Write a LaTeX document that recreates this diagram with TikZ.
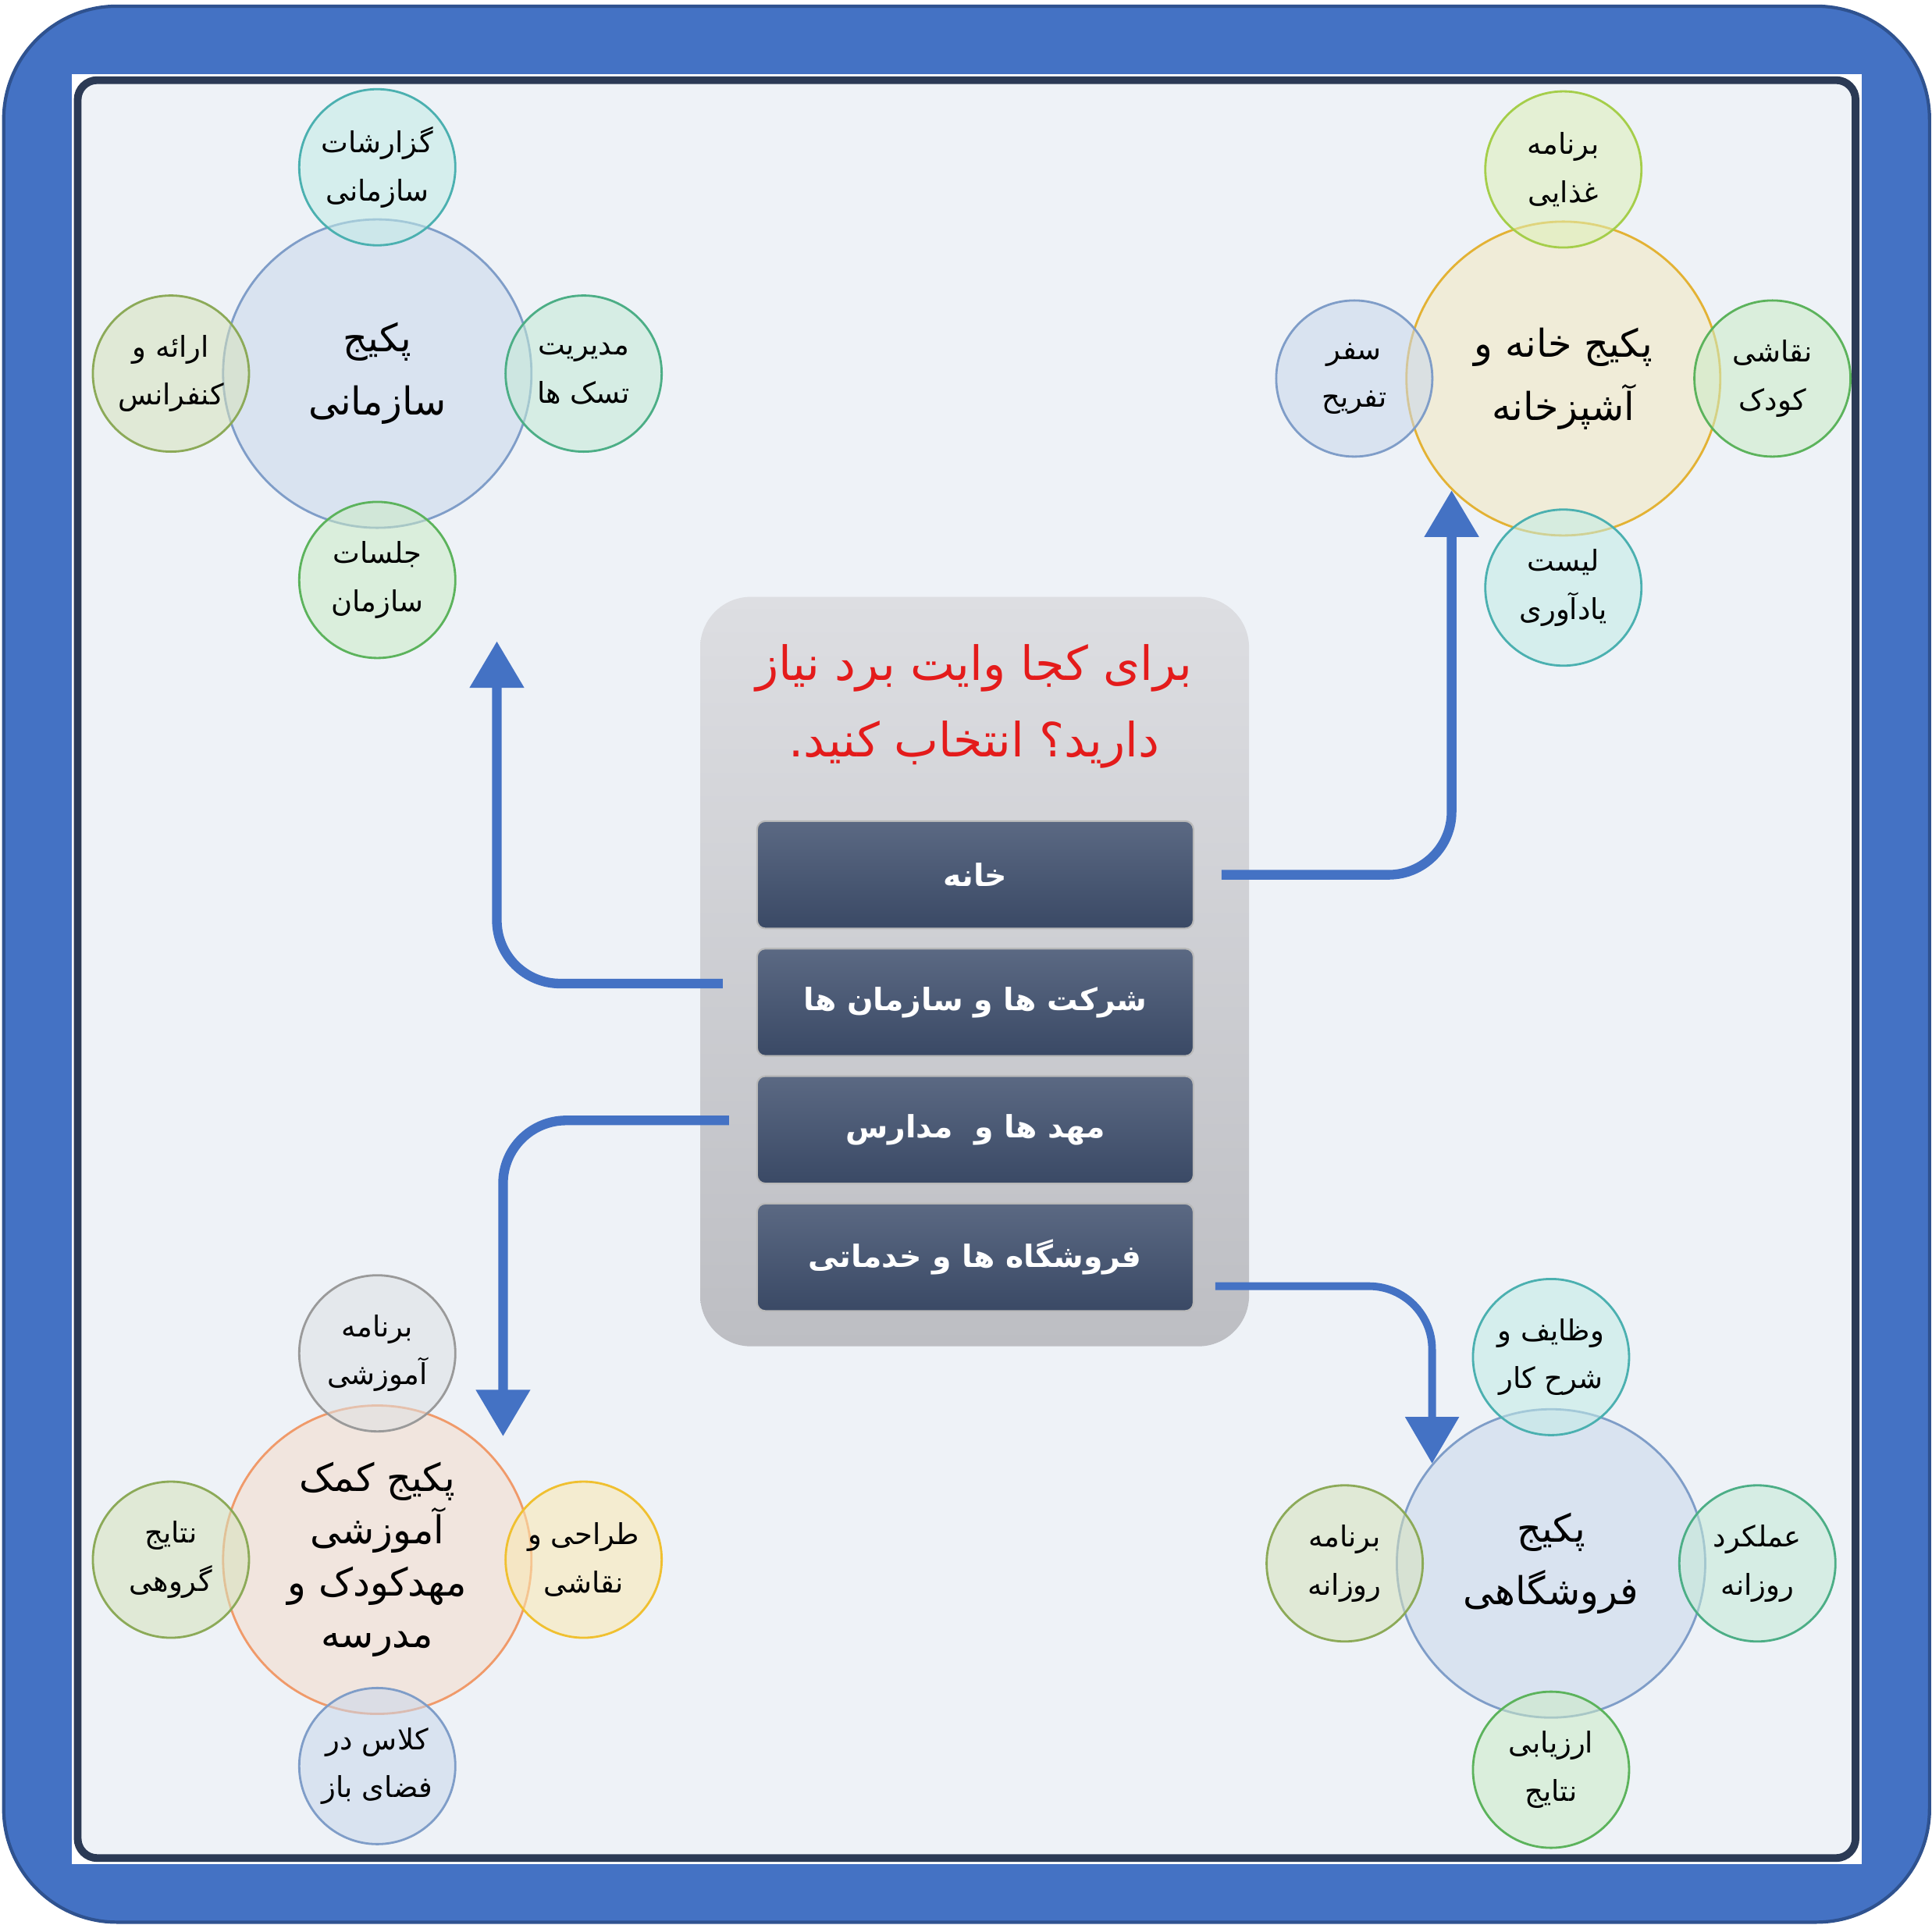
\documentclass[tikz,border=0pt]{standalone}
\usepackage{fontspec}
\newfontfamily\arabicfont[Script=Arabic]{DejaVu Sans}
\TeXXeTstate=1
\usetikzlibrary{positioning, arrows.meta}

\newcommand{\fatext}[1]{\beginR #1\endR}

\definecolor{frameblue}{HTML}{4472C4}
\definecolor{frameline}{HTML}{2F528F}
\definecolor{panelbg}{HTML}{EEF2F7}
\definecolor{panelline}{HTML}{2B3A55}
\definecolor{menutop}{HTML}{DDDEE2}
\definecolor{menubot}{HTML}{BDBEC3}
\definecolor{btntop}{HTML}{5B6983}
\definecolor{btnbot}{HTML}{3A4965}
\definecolor{titlered}{HTML}{E41B1B}
\definecolor{bluefill}{HTML}{C9D7EC}   \definecolor{blueline}{HTML}{7F9DC8}
\definecolor{tealfill}{HTML}{C2ECE6}   \definecolor{tealline}{HTML}{4BB0B0}
\definecolor{olivefill}{HTML}{D6E2BC}  \definecolor{oliveline}{HTML}{8CAA58}
\definecolor{mintfill}{HTML}{C4EAD6}   \definecolor{mintline}{HTML}{4CAE86}
\definecolor{greenfill}{HTML}{CBEBC6}  \definecolor{greenline}{HTML}{5CB35C}
\definecolor{yellowfill}{HTML}{F3E8C0} \definecolor{yellowline}{HTML}{E3B234}
\definecolor{limefill}{HTML}{DDF0B8}   \definecolor{limeline}{HTML}{A5CE4A}
\definecolor{orangefill}{HTML}{F4DCCB} \definecolor{orangeline}{HTML}{F09A6A}
\definecolor{grayfill}{HTML}{DDE0E3}   \definecolor{grayline}{HTML}{9A9A9A}
\definecolor{goldfill}{HTML}{FAE8B0}   \definecolor{goldline}{HTML}{F0C030}

\begin{document}
\begin{tikzpicture}[x=0.0158cm, y=-0.0158cm]
		\tikzset{
			>={Triangle[length=17pt, width=19pt]},
			flow/.style={->, draw=frameblue, line width=3.5pt, rounded corners=23pt},
			menubox/.style={rounded corners=0.65cm, top color=menutop, bottom color=menubot, minimum width=7.03cm, minimum height=9.6cm},
			menubtn/.style={draw=gray!55, line width=0.6pt, rounded corners=3pt, top color=btntop, bottom color=btnbot, minimum width=5.59cm, minimum height=1.375cm, inner sep=0pt, text=white, font=\arabicfont\bfseries\fontsize{11.2}{16}\selectfont},
			pkg/.style={circle, minimum size=3.95cm, inner sep=-25pt, line width=0.8pt, fill opacity=0.55, text opacity=1, align=center, font=\arabicfont\fontsize{14}{23}\selectfont},
			item/.style={circle, minimum size=2cm, inner sep=-25pt, line width=0.8pt, fill opacity=0.55, text opacity=1, align=center, font=\arabicfont\fontsize{10.5}{17.5}\selectfont},
			tone/.style={draw=#1line, fill=#1fill}
		}
		\useasboundingbox (0,0) rectangle (1567,1560.7);
		
		% Frame
		\draw[fill=frameblue, draw=frameline, line width=1.2pt, rounded corners=1.45cm] (3,5) rectangle (1565,1559);
		\fill[white] (58,60) rectangle (1510,1512);
		\draw[panelline, fill=panelbg, line width=2.8pt, rounded corners=0.25cm] (63,65) rectangle (1505,1507);
		
		% Menu
		\node[menubox] (menu) at (790.5,788) {};
		\node[font=\arabicfont\fontsize{17.2}{28}\selectfont, text=titlered, align=center] (title) at (790,573) {\fatext{برای کجا وایت برد نیاز}\\\fatext{دارید؟ انتخاب کنید.}};
		\node[menubtn] (home) at (791,709.5) {\fatext{خانه}};
		\node[menubtn, below=0.237cm of home] (org) {\fatext{شرکت ها و سازمان ها}};
		\node[menubtn, below=0.237cm of org] (school) {\fatext{مهد ها و~ مدارس}};
		\node[menubtn, below=0.237cm of school] (shop) {\fatext{فروشگاه ها و خدماتی}};
		
		% Organisation package
		\node[pkg, tone=blue] (orgpkg) at (306,303) {\fatext{پکیج}\\\fatext{سازمانی}};
		\node[item, tone=teal, above=-0.36cm of orgpkg] (orgtop) {\fatext{گزارشات}\\\fatext{سازمانی}};
		\node[item, tone=olive, left=-0.36cm of orgpkg] (orgleft) {\fatext{ارائه و}\\\fatext{کنفرانس}};
		\node[item, tone=mint, right=-0.36cm of orgpkg] (orgright) {\fatext{مدیریت}\\\fatext{تسک ها}};
		\node[item, tone=green, below=-0.36cm of orgpkg] (orgbottom) {\fatext{جلسات}\\\fatext{سازمان}};
		
		% Home package
		\node[pkg, tone=yellow, minimum size=4.02cm] (homepkg) at (1268,307) {\fatext{پکیج خانه و}\\\fatext{آشپزخانه}};
		\node[item, tone=lime, above=-0.36cm of homepkg] (hometop) {\fatext{برنامه}\\\fatext{غذایی}};
		\node[item, tone=blue, left=-0.36cm of homepkg] (homeleft) {\fatext{سفر}\\\fatext{تفریح}};
		\node[item, tone=green, right=-0.36cm of homepkg] (homeright) {\fatext{نقاشی}\\\fatext{کودک}};
		\node[item, tone=teal, below=-0.36cm of homepkg] (homebottom) {\fatext{لیست}\\\fatext{یادآوری}};
		
		% School package
		\node[pkg, tone=orange, font=\arabicfont\fontsize{14}{19}\selectfont] (schoolpkg) at (306,1265) {\fatext{پکیج کمک}\\\fatext{آموزشی}\\\fatext{مهدکودک و}\\\fatext{مدرسه}};
		\node[item, tone=gray, above=-0.36cm of schoolpkg] (schooltop) {\fatext{برنامه}\\\fatext{آموزشی}};
		\node[item, tone=olive, left=-0.36cm of schoolpkg] (schoolleft) {\fatext{نتایج}\\\fatext{گروهی}};
		\node[item, tone=gold, right=-0.36cm of schoolpkg] (schoolright) {\fatext{طراحی و}\\\fatext{نقاشی}};
		\node[item, tone=blue, below=-0.36cm of schoolpkg] (schoolbottom) {\fatext{کلاس در}\\\fatext{فضای باز}};
		
		% Shop package
		\node[pkg, tone=blue] (shoppkg) at (1258,1268) {\fatext{پکیج}\\\fatext{فروشگاهی}};
		\node[item, tone=teal, above=-0.36cm of shoppkg] (shoptop) {\fatext{وظایف و}\\\fatext{شرح کار}};
		\node[item, tone=olive, left=-0.36cm of shoppkg] (shopleft) {\fatext{برنامه}\\\fatext{روزانه}};
		\node[item, tone=mint, right=-0.36cm of shoppkg] (shopright) {\fatext{عملکرد}\\\fatext{روزانه}};
		\node[item, tone=green, below=-0.36cm of shoppkg] (shopbottom) {\fatext{ارزیابی}\\\fatext{نتایج}};
		
		% Arrow ends
		\coordinate (orgtip) at (403,520);
		\coordinate (schooltip) at (408,1165);
		
		% Arrows
		\draw[flow] ([xshift=0.35cm]home.east) -| (homepkg.225);
		\draw[flow] ([xshift=-0.43cm, yshift=0.24cm]org.west) -| (orgtip);
		\draw[flow] ([xshift=-0.35cm, yshift=0.12cm]school.west) -| (schooltip);
		\draw[flow, line width=2.8pt] ([xshift=0.27cm, yshift=-0.37cm]shop.east) -| (shoppkg.140);
		
	\end{tikzpicture}
\end{document}
